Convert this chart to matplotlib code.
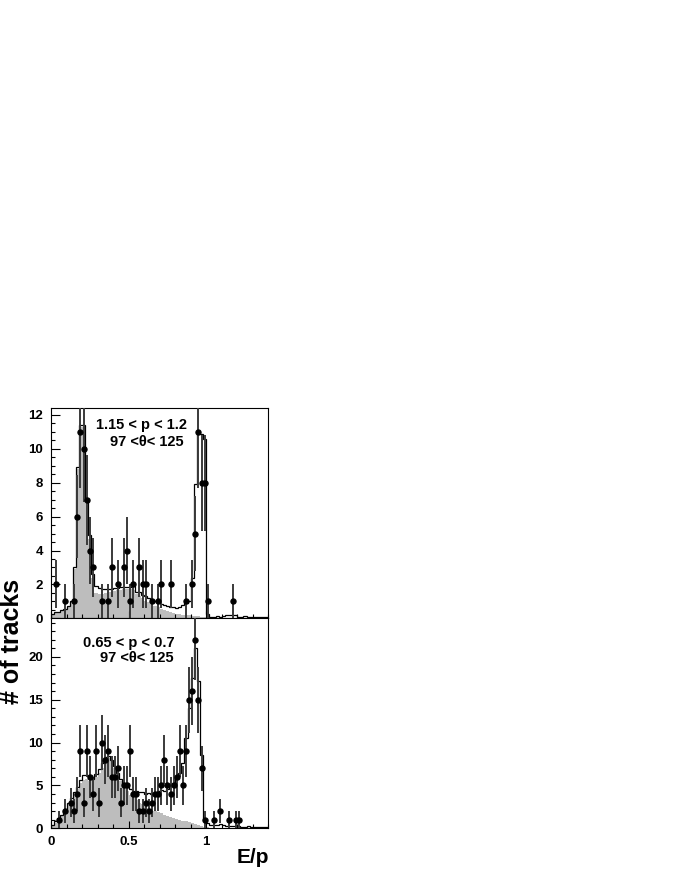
import numpy as np
import matplotlib
matplotlib.use("Agg")
import matplotlib.pyplot as plt
from matplotlib.ticker import MultipleLocator

plt.rcParams['font.family'] = ['Liberation Sans', 'DejaVu Sans']
plt.rcParams['font.weight'] = 'bold'

# ---------------- data ----------------
EP_MIN, EP_MAX, N_BINS = 0.0, 1.4, 70

# upper panel (1.15 < p < 1.2)
top_total = [0.25, 0.35, 0.35, 0.5, 0.55, 0.7, 1.0, 3.0, 8.9, 11.4,
             11.4, 6.9, 4.9, 2.6, 1.9, 1.8, 1.7, 1.7, 1.75, 1.7,
             1.8, 1.8, 1.85, 1.85, 1.85, 1.85, 1.9, 1.55, 1.55, 1.4,
             1.3, 1.2, 1.1, 1.0, 0.95, 0.85, 0.8, 0.75, 0.67, 0.67,
             0.6, 0.67, 0.8, 0.9, 1.0, 2.4, 7.9, 10.9, 10.9, 10.6,
             0.25, 0.1, 0.1, 0.12, 0.1, 0.15, 0.2, 0.2, 0.2, 0.2,
             0.1, 0.1, 0.15, 0.1, 0.1, 0.1, 0.05, 0.1, 0.05, 0.05]
top_hadron = [0.2, 0.3, 0.3, 0.45, 0.5, 0.65, 0.95, 2.9, 8.8, 11.3,
              11.3, 6.8, 4.7, 2.4, 1.5, 1.45, 1.45, 1.5, 1.55, 1.55,
              1.6, 1.65, 1.65, 1.7, 1.7, 1.7, 1.65, 1.45, 1.3, 1.2,
              1.05, 0.95, 0.85, 0.75, 0.65, 0.55, 0.5, 0.42, 0.37, 0.32,
              0.28, 0.25, 0.22, 0.2, 0.18, 0.16, 0.14, 0.12, 0.1, 0.08,
              0.06, 0.04, 0.03, 0.02, 0.02, 0.02, 0.01, 0.01, 0.01, 0.01,
              0, 0, 0, 0, 0, 0, 0, 0, 0, 0]
top_pt_x = [0.03, 0.09, 0.15, 0.17, 0.19, 0.21, 0.23, 0.25, 0.27, 0.33,
            0.37, 0.39, 0.43, 0.47, 0.49, 0.51, 0.53, 0.57, 0.59, 0.61,
            0.65, 0.69, 0.71, 0.77, 0.87, 0.91, 0.93, 0.95, 0.97, 0.99,
            1.01, 1.17]
top_pt_n = [2, 1, 1, 6, 11, 10, 7, 4, 3, 1,
            1, 3, 2, 3, 4, 1, 2, 3, 2, 2,
            1, 1, 2, 2, 1, 2, 5, 11, 8, 8,
            1, 1]

# lower panel (0.65 < p < 0.7)
bot_total = [0.4, 0.8, 1.2, 1.6, 2.1, 2.9, 3.5, 4.2, 4.8, 5.6,
             6.2, 6.2, 5.9, 5.8, 6.3, 6.9, 7.6, 8.3, 8.4, 8.0,
             7.3, 6.5, 5.8, 5.2, 4.8, 4.6, 4.4, 4.3, 4.2, 4.2,
             4.0, 4.1, 4.0, 4.1, 4.3, 4.5, 4.4, 4.6, 4.9, 5.3,
             5.7, 6.5, 7.6, 10.5, 14.0, 17.5, 21.0, 17.2, 8.5, 1.0,
             0.6, 0.4, 0.35, 0.35, 0.5, 0.4, 0.3, 0.3, 0.3, 0.25,
             0.3, 0.2, 0.2, 0.25, 0.2, 0.2, 0.15, 0.15, 0.15, 0.1]
bot_hadron = [0.3, 0.6, 1.0, 1.5, 2.0, 2.7, 3.3, 4.0, 4.6, 5.3,
              5.6, 5.8, 5.5, 5.6, 6.0, 6.5, 7.0, 7.7, 8.2, 7.8,
              7.0, 6.3, 5.5, 4.8, 4.3, 3.9, 3.6, 3.3, 3.0, 2.8,
              2.6, 2.4, 2.2, 2.0, 1.9, 1.75, 1.6, 1.45, 1.35, 1.25,
              1.1, 1.0, 0.9, 0.8, 0.7, 0.6, 0.5, 0.4, 0.3, 0.2,
              0.1, 0.05, 0.02, 0, 0, 0, 0, 0, 0, 0,
              0, 0, 0, 0, 0, 0, 0, 0, 0, 0]
bot_pt_x = [0.05, 0.09, 0.13, 0.15, 0.17, 0.19, 0.21, 0.23, 0.25, 0.27,
            0.29, 0.31, 0.33, 0.35, 0.37, 0.39, 0.41, 0.43, 0.45, 0.47,
            0.49, 0.51, 0.53, 0.55, 0.57, 0.59, 0.61, 0.63, 0.65, 0.67,
            0.69, 0.71, 0.73, 0.75, 0.77, 0.79, 0.81, 0.83, 0.85, 0.87,
            0.89, 0.91, 0.93, 0.95, 0.97, 0.99, 1.05, 1.09, 1.15, 1.19,
            1.21]
bot_pt_n = [1, 2, 3, 2, 4, 9, 3, 9, 6, 4,
            9, 3, 10, 8, 9, 6, 6, 7, 3, 5,
            5, 9, 4, 4, 2, 2, 3, 2, 3, 4,
            4, 5, 8, 5, 4, 5, 6, 9, 5, 9,
            15, 16, 22, 15, 7, 1, 1, 2, 1, 1,
            1]

top_labels = ["1.15 < p < 1.2", "97 <\u03b8< 125"]
bot_labels = ["0.65 < p < 0.7", "97 <\u03b8< 125"]
x_ticks = [0, 0.5, 1]
x_ticklabels = ["0", "0.5", "1"]

# ---------------- figure ----------------
W, H = 674, 872
fig = plt.figure(figsize=(W / 100, H / 100), dpi=100)
x0, x1 = 51, 268.3
ax_top = fig.add_axes([x0 / W, 1 - 618.3 / H, (x1 - x0) / W, (618.3 - 408) / H])
ax_bot = fig.add_axes([x0 / W, 1 - 828.3 / H, (x1 - x0) / W, (828.3 - 618.3) / H])

edges = np.linspace(EP_MIN, EP_MAX, N_BINS + 1)
gray = '#bdbdbd'


def draw(ax, total, hadron, px, pn, ymax, ymaj, ymin):
    ax.stairs(hadron, edges, fill=True, color=gray, lw=0, zorder=1)
    ax.stairs(total, edges, fill=False, color='black', lw=0.9, baseline=0, zorder=2)
    pn = np.asarray(pn, float)
    ax.errorbar(px, pn, yerr=np.sqrt(pn), fmt='o', ms=3.6, mfc='black', mec='black',
                ecolor='#3a3a3a', elinewidth=1.4, capsize=0, zorder=3)
    ax.set_xlim(EP_MIN, EP_MAX)
    ax.set_ylim(0, ymax)
    ax.yaxis.set_major_locator(MultipleLocator(ymaj))
    ax.yaxis.set_minor_locator(MultipleLocator(ymin))
    ax.set_xticks(x_ticks)
    ax.xaxis.set_minor_locator(MultipleLocator(0.1))
    ax.tick_params(axis='both', which='both', direction='in', top=False, right=False,
                   width=0.8, labelsize=9.5, pad=5.5)
    ax.tick_params(axis='y', which='major', length=6.5)
    ax.tick_params(axis='y', which='minor', length=3.2)
    ax.tick_params(axis='x', which='major', length=5)
    ax.tick_params(axis='x', which='minor', length=2.8)
    for s in ax.spines.values():
        s.set_linewidth(0.8)
    for lab in ax.get_yticklabels():
        lab.set_fontweight('bold')


draw(ax_top, top_total, top_hadron, top_pt_x, top_pt_n, 12.41, 2, 0.5)
draw(ax_bot, bot_total, bot_hadron, bot_pt_x, bot_pt_n, 24.5, 5, 1)

ax_top.set_xticklabels([])
ax_bot.set_xticklabels(x_ticklabels, fontweight='bold')

ax_top.text(0.626, 0.919, top_labels[0], transform=ax_top.transAxes, ha='right', va='center',
            fontsize=10.5, fontweight='bold')
ax_top.text(0.612, 0.838, top_labels[1], transform=ax_top.transAxes, ha='right', va='center',
            fontsize=10.5, fontweight='bold')
ax_bot.text(0.571, 0.882, bot_labels[0], transform=ax_bot.transAxes, ha='right', va='center',
            fontsize=10.5, fontweight='bold')
ax_bot.text(0.566, 0.809, bot_labels[1], transform=ax_bot.transAxes, ha='right', va='center',
            fontsize=10.5, fontweight='bold')

fig.text(12 / W, 1 - 641 / H, "# of tracks", rotation=90, ha='center', va='center',
         fontsize=18, fontweight='bold')
fig.text(269 / W, 1 - 857 / H, "E/p", ha='right', va='center', fontsize=15, fontweight='bold')

fig.savefig("out.png", dpi=100)
